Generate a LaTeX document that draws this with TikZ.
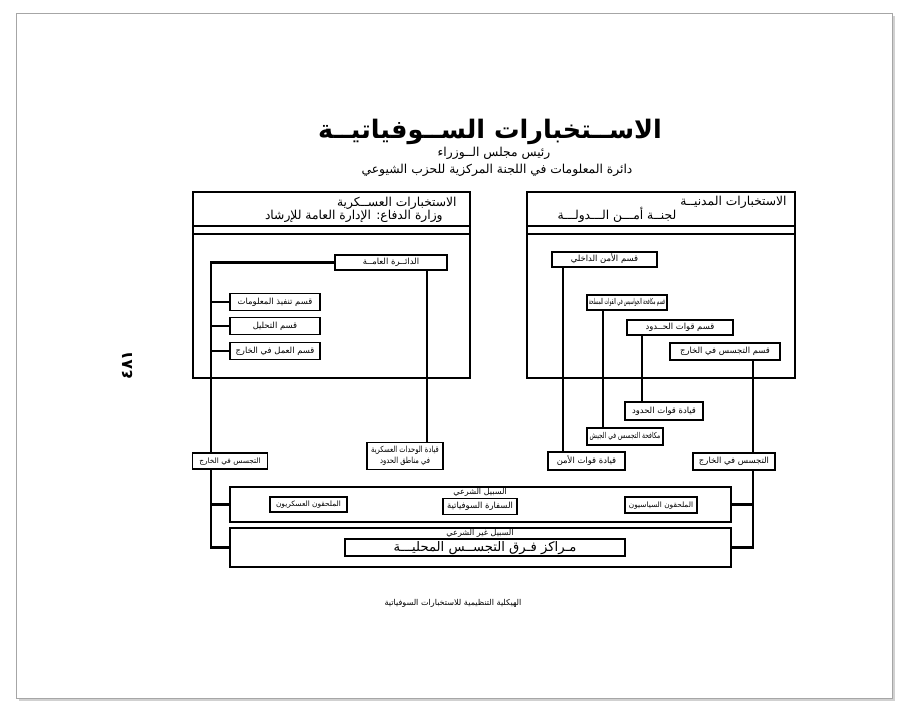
\documentclass[tikz,border=0pt]{standalone}
\usepackage{fontspec}
\newfontfamily\arabicfont[Script=Arabic]{DejaVu Sans}
\TeXXeTstate=1
\newcommand{\artxt}[1]{\beginR #1\endR}

\tikzset{
  unit/.style={draw, line width=0.8pt, fill=white, inner sep=0pt,
    text height=4pt, text depth=1.2pt,
    font=\arabicfont\fontsize{4.8}{6}\selectfont},
  tight/.style={font=\arabicfont\fontsize{4.2}{5.2}\selectfont},
  boxsize/.style 2 args={minimum width=#1*0.02cm, minimum height=#2*0.02cm},
  link/.style={line width=1.3pt},
  frame/.style={line width=0.6pt},
  head/.style={inner sep=0pt, font=\arabicfont\fontsize{7}{8}\selectfont},
  small/.style={inner sep=0pt, font=\arabicfont\fontsize{4.6}{5.5}\selectfont},
}

\begin{document}
\begin{tikzpicture}[x=0.02cm, y=-0.02cm]
  \useasboundingbox (0,0) rectangle (905,709);
  % page
  \fill [black!18] (19,16) rectangle (895,701);
  \draw [black!35, fill=white] (16,13) rectangle (892,698);

  \node (title) at (490,132) {\arabicfont\bfseries\fontsize{14.5}{17}\selectfont\artxt{الاســتخبارات الســوفياتيــة}};
  \node [head] (pm) at (494,153) {\artxt{رئيس مجلس الــوزراء}};
  \node [head] (cc) at (497,170) {\artxt{دائرة المعلومات في اللجنة المركزية للحزب الشيوعي}};
  \node [rotate=90, font=\arabicfont\bfseries\fontsize{9}{10}\selectfont] (page) at (127,365) {٤٨١};

  % military intelligence
  \draw [frame] (193,192) rectangle (470,378);
  \draw [frame] (193,226) -- (470,226);
  \draw [frame] (193,234) -- (470,234);
  \node [head, anchor=east] (milhead) at (457,203) {\artxt{الاستخبارات العســكرية}};
  \node [head, anchor=east] (milsub) at (443,216) {\artxt{وزارة الدفاع: الإدارة العامة للإرشاد}};

  \node [unit, boxsize={112}{15}] (gen) at (391,262.5) {\artxt{الدائــرة العامــة}};
  \node [unit, boxsize={90}{17}] (info) at (275,302) {\artxt{قسم تنفيذ المعلومات}};
  \node [unit, boxsize={90}{17}] (anal) at (275,326) {\artxt{قسم التحليل}};
  \node [unit, boxsize={90}{17}] (workabr) at (275,351) {\artxt{قسم العمل في الخارج}};
  \node [unit, boxsize={75}{16}, tight] (spyL) at (230,461) {\artxt{التجسس في الخارج}};
  \node [unit, boxsize={76}{27}, align=center, text height=, text depth=] (borderunits) at (405,456)
    {\scalebox{0.8}[1]{\beginR قيادة الوحدات العسكرية\endR}\\\scalebox{0.8}[1]{\beginR في مناطق الحدود\endR}};

  \coordinate (spineL) at (211,0);
  \coordinate (colL) at (427,0);
  \draw [link] (gen.west) -| (spineL |- spyL.north);
  \draw [link] (spineL |- info) -- (info.west);
  \draw [link] (spineL |- anal) -- (anal.west);
  \draw [link] (spineL |- workabr) -- (workabr.west);
  \draw [link] (gen.south -| colL) -- (borderunits.north -| colL);

  % civil intelligence
  \draw [frame] (527,192) rectangle (795,378);
  \draw [frame] (527,226) -- (795,226);
  \draw [frame] (527,234) -- (795,234);
  \node [head, anchor=east] (civhead) at (787,202) {\artxt{الاستخبارات المدنيــة}};
  \node [head] (civsub) at (617,215) {\artxt{لجنــة أمـــن الـــدولـــة}};

  \node [unit, boxsize={105}{15}] (intsec) at (604.5,259.5) {\artxt{قسم الأمن الداخلي}};
  \node [unit, boxsize={80}{15}, font=\arabicfont\fontsize{4.6}{5.5}\selectfont] (counter) at (627,302.5) {\scalebox{0.5}[1]{\beginR قسم مكافحة الجواسيس في القوات المسلحة\endR}};
  \node [unit, boxsize={106}{15}] (bordsec) at (680,327.5) {\artxt{قسم قوات الحــدود}};
  \node [unit, boxsize={110}{17}] (spysec) at (725,351.5) {\artxt{قسم التجسس في الخارج}};
  \node [unit, boxsize={78}{18}] (bordcmd) at (664,411) {\artxt{قيادة قوات الحدود}};
  \node [unit, boxsize={76}{17}, font=\arabicfont\fontsize{4.6}{5.5}\selectfont] (army) at (625,436.5) {\scalebox{0.74}[1]{\beginR مكافحة التجسس في الجيش\endR}};
  \node [unit, boxsize={77}{18}, line width=1.3pt] (secforce) at (586.5,461) {\artxt{قيادة قوات الأمن}};
  \node [unit, boxsize={82}{17}] (spyR) at (734,461.5) {\artxt{التجسس في الخارج}};

  \coordinate (spineR) at (753,0);
  \draw [link] (intsec.south -| 563,0) -- (secforce.north -| 563,0);
  \draw [link] (counter.south -| 603,0) -- (army.north -| 603,0);
  \draw [link] (bordsec.south -| 642,0) -- (bordcmd.north -| 642,0);
  \draw [link] (spysec.south -| spineR) -- (spyR.north -| spineR);

  % channels
  \node [draw, frame, boxsize={501}{35}] (legal) at (480.5,504.5) {};
  \node [draw, frame, boxsize={501}{39}] (illegal) at (480.5,547.5) {};
  \node [small] (legallbl) at (480,492) {\artxt{السبيل الشرعي}};
  \node [small] (illegallbl) at (480,533.5) {\artxt{السبيل غير الشرعي}};
  \node [unit, boxsize={77}{15}, tight] (milatt) at (308.5,504.5) {\artxt{الملحقون العسكريون}};
  \node [unit, boxsize={74}{16}] (embassy) at (480,506.5) {\artxt{السفارة السوفياتية}};
  \node [unit, boxsize={72}{16}, tight] (polatt) at (661,505) {\artxt{الملحقون السياسيون}};
  \node [unit, boxsize={280}{17}, text height=6pt, text depth=1.8pt, font=\arabicfont\fontsize{7.5}{9}\selectfont] (centers) at (485,547.5) {\artxt{مـراكز فـرق التجســس المحليـــة}};

  \draw [link] (spineL |- spyL.south) |- (illegal.west);
  \draw [link] (spineL |- legal.west) -- (legal.west);
  \draw [link] (spyR.south -| spineR) |- (illegal.east);
  \draw [link] (spineR |- legal.east) -- (legal.east);

  \node [small] (caption) at (453,603) {\artxt{الهيكلية التنظيمية للاستخبارات السوفياتية}};
\end{tikzpicture}
\end{document}
